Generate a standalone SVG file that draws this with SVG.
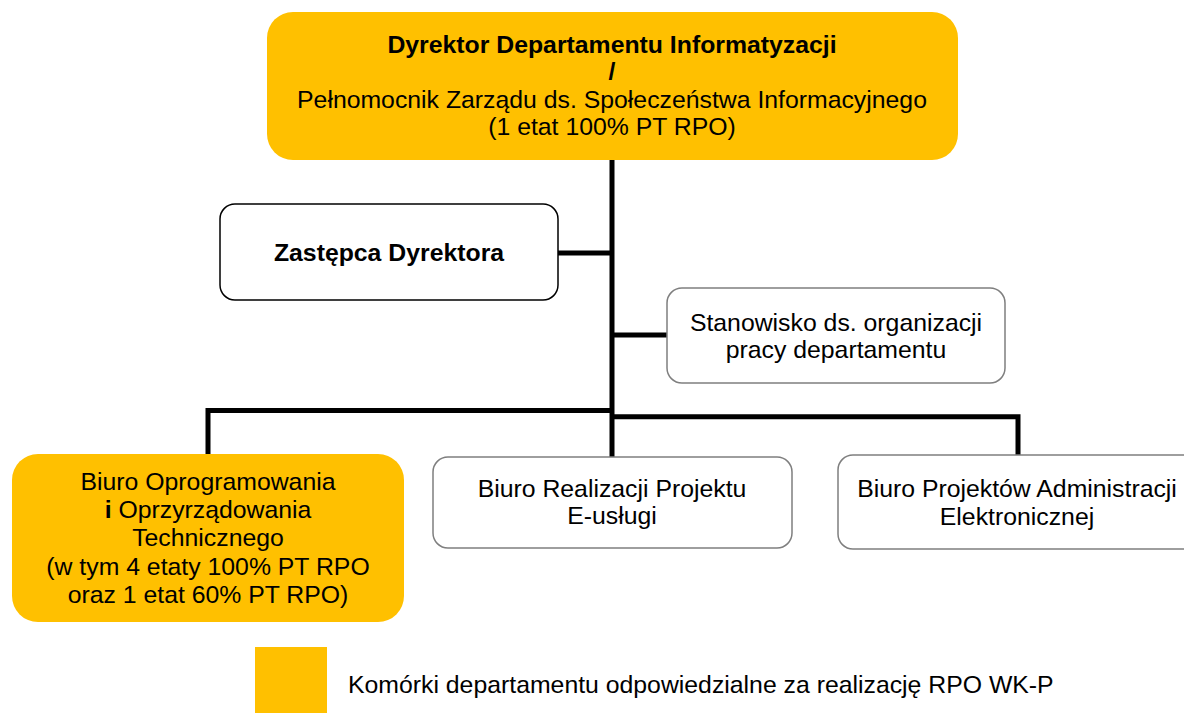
<svg xmlns="http://www.w3.org/2000/svg" width="1184" height="713" viewBox="0 0 1184 713">
  <style>
    text { font-family: "Liberation Sans", Arial, sans-serif; font-size: 24.8px; fill: #000; text-anchor: middle; }
    .b { font-weight: bold; }
    .start { text-anchor: start; }
    .gold { fill: #FFC000; stroke: none; }
    .white-dark { fill: #fff; stroke: #000; stroke-width: 1.5; }
    .white-grey { fill: #fff; stroke: #7f7f7f; stroke-width: 1.5; }
    .link { fill: none; stroke: #000; stroke-width: 5; }
  </style>

  <rect width="1184" height="713" fill="#fff"/>

  <!-- connectors: trunk, side branches and the two halves of the lower bus -->
  <g id="connectors" class="link">
    <line x1="612" y1="158" x2="612" y2="457"/>
    <line x1="558" y1="253" x2="614" y2="253"/>
    <line x1="612" y1="335" x2="667" y2="335"/>
    <polyline points="208,454 208,410.5 614,410.5"/>
    <polyline points="610,416.8 1018,416.8 1018,455"/>
  </g>

  <g id="dyrektor">
    <rect class="gold" x="267" y="12" width="691" height="148" rx="26"/>
    <text class="b" x="612" y="53">Dyrektor Departamentu Informatyzacji</text>
    <text class="b" x="612" y="80">/</text>
    <text x="612" y="108">Pełnomocnik Zarządu ds. Społeczeństwa Informacyjnego</text>
    <text x="612" y="135">(1 etat 100% PT RPO)</text>
  </g>

  <g id="zastepca">
    <rect class="white-dark" x="220" y="204" width="338" height="96" rx="15"/>
    <text class="b" x="389" y="261">Zastępca Dyrektora</text>
  </g>

  <g id="stanowisko">
    <rect class="white-grey" x="667" y="288" width="338" height="95" rx="15"/>
    <text x="836" y="331">Stanowisko ds. organizacji</text>
    <text x="836" y="358">pracy departamentu</text>
  </g>

  <g id="biuro-oprogramowania">
    <rect class="gold" x="12" y="454" width="392" height="168" rx="26"/>
    <text x="208" y="490">Biuro Oprogramowania</text>
    <text x="208" y="518"><tspan class="b">i</tspan> Oprzyrządowania</text>
    <text x="208" y="546">Technicznego</text>
    <text x="208" y="575">(w tym 4 etaty 100% PT RPO</text>
    <text x="208" y="603">oraz 1 etat 60% PT RPO)</text>
  </g>

  <g id="biuro-realizacji">
    <rect class="white-grey" x="433" y="457" width="359" height="91" rx="15"/>
    <text x="612" y="497">Biuro Realizacji Projektu</text>
    <text x="612" y="524">E-usługi</text>
  </g>

  <g id="biuro-projektow">
    <rect class="white-grey" x="838" y="455" width="360" height="94" rx="15"/>
    <text x="1017" y="497">Biuro Projektów Administracji</text>
    <text x="1017" y="525">Elektronicznej</text>
  </g>

  <g id="legenda">
    <rect class="gold" x="255" y="647" width="72" height="66"/>
    <text class="start" x="348" y="693">Komórki departamentu odpowiedzialne za realizację RPO WK-P</text>
  </g>
</svg>
